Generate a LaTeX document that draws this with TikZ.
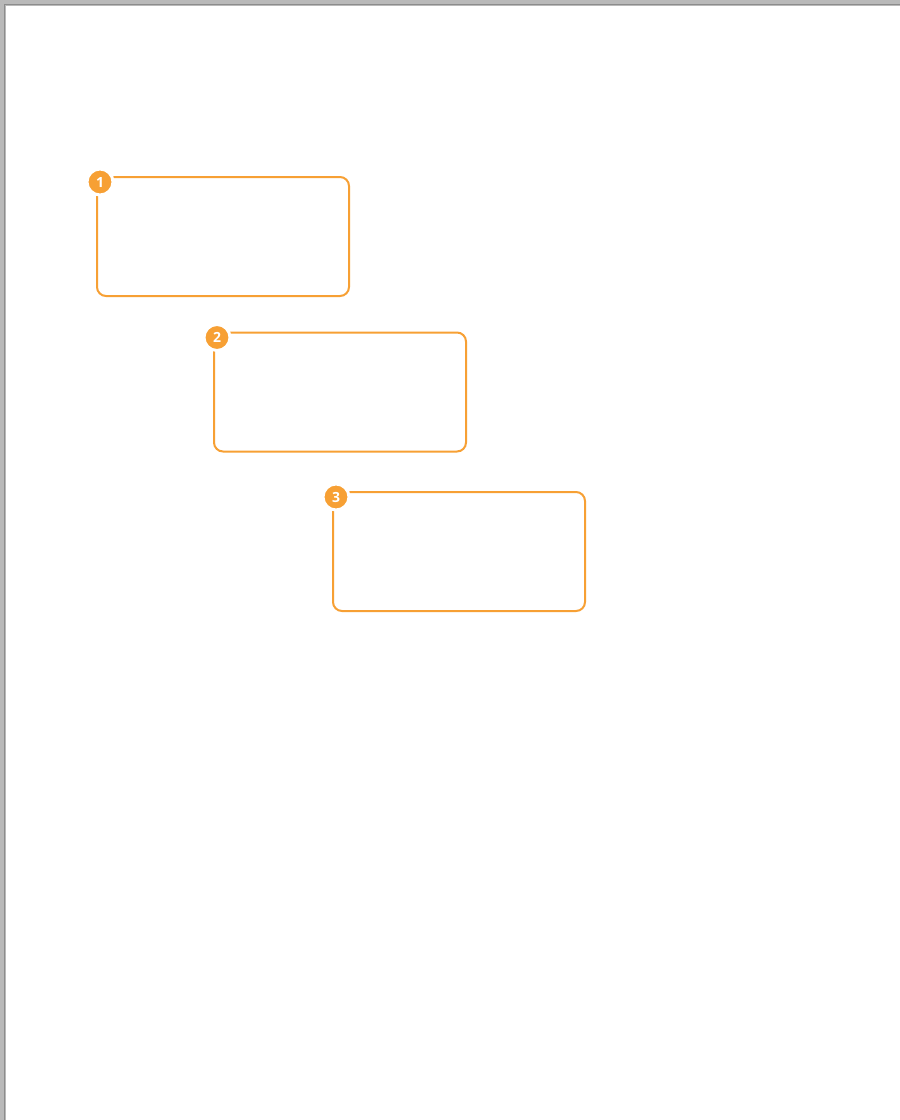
\documentclass[tikz,border=0pt]{standalone}
\usepackage{fontspec}
\setmainfont{Open Sans}
\usepackage{xcolor}
\usetikzlibrary{positioning}
\definecolor{boxorange}{RGB}{247,160,52}
\definecolor{pagegray}{RGB}{185,185,185}
\definecolor{edgegray}{RGB}{140,140,140}

\begin{document}
\begin{tikzpicture}[x=1pt, y=-1pt,
  panel/.style={rectangle, draw=boxorange, line width=2pt, rounded corners=9pt,
                minimum width=252pt, minimum height=119pt, inner sep=0pt},
  badge/.style={circle, fill=boxorange, draw=white, line width=3pt,
                minimum size=26pt, inner sep=0pt, text=white,
                font=\fontsize{14}{14}\selectfont\bfseries}
]
  \useasboundingbox (0,0) rectangle (900,1120);
  % page frame
  \fill[pagegray] (0,0) rectangle (900,1120);
  \draw[edgegray, line width=1.5pt] (4.5,1120) -- (4.5,4.5) -- (900,4.5);
  \fill[white] (6,6) rectangle (900,1120);

  % three panels
  \node[panel] (p1) at (223,236.5) {};
  \node[panel] (p2) at (340,392) {};
  \node[panel] (p3) at (459,551.5) {};

  \node[badge] (b1) at ([shift={(4pt,-6pt)}]p1.north west) {1};
  \node[badge] (b2) at ([shift={(4pt,-6pt)}]p2.north west) {2};
  \node[badge] (b3) at ([shift={(4pt,-6pt)}]p3.north west) {3};
\end{tikzpicture}
\end{document}
